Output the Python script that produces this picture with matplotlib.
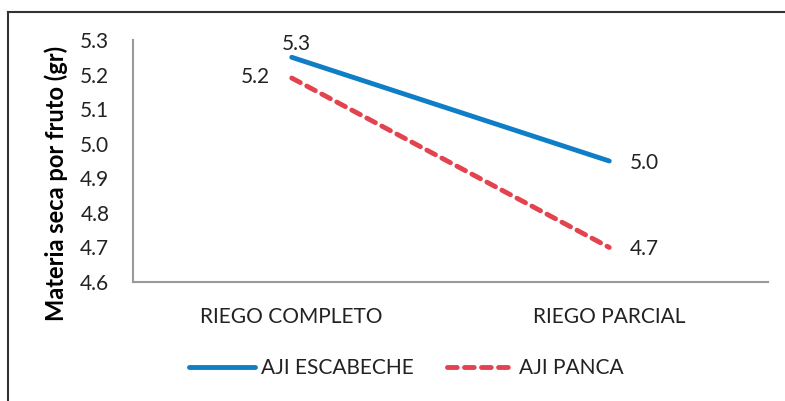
import matplotlib
matplotlib.use("Agg")
import matplotlib.pyplot as plt
from matplotlib.lines import Line2D

categories = ["RIEGO COMPLETO", "RIEGO PARCIAL"]
escabeche = [5.25, 4.95]
panca = [5.19, 4.70]
escabeche_labels = ["5.3", "5.0"]
panca_labels = ["5.2", "4.7"]
yticks = [4.6, 4.7, 4.8, 4.9, 5.0, 5.1, 5.2, 5.3]

plt.rcParams['font.family'] = ['Lato', 'DejaVu Sans']

fig = plt.figure(figsize=(7.85, 4.01), dpi=100)
ax = fig.add_axes([133/785, 1-282/401, (768-133)/785, (282-40)/401])

blue = "#0F7EC6"
red = "#E2434F"
txt = "#222222"
x = list(range(len(categories)))
ax.plot(x, escabeche, color=blue, lw=3.5, solid_capstyle='round', label="AJI ESCABECHE")
ax.plot(x, panca, color=red, lw=3.5, linestyle=(0, (2.0, 1.5)), dash_capstyle='round', label="AJI PANCA")

ax.set_xlim(-0.5, 1.5)
ax.set_ylim(4.6, 5.3)
ax.set_yticks(yticks)
ax.set_yticklabels([f"{v:.1f}" for v in yticks], fontsize=15, color=txt)
ax.set_xticks(x)
ax.set_xticklabels(categories, fontsize=15, color=txt)
ax.tick_params(axis='y', length=0, pad=17)
ax.tick_params(axis='x', length=0, pad=18)
for s in ["top", "right"]:
    ax.spines[s].set_visible(False)
ax.spines["left"].set_color("#999999")
ax.spines["bottom"].set_color("#999999")
ax.spines["left"].set_linewidth(1.5)
ax.spines["bottom"].set_linewidth(1.5)

ax.set_ylabel("Materia seca por fruto (gr)", fontsize=17, fontweight='bold')
ax.yaxis.set_label_coords((68-133)/(768-133), (282-183)/(282-40))

# data labels
ax.annotate(escabeche_labels[0], (x[0], escabeche[0]), xytext=(5, 13), textcoords='offset pixels',
            ha='center', va='center', fontsize=15, color=txt)
ax.annotate(panca_labels[0], (x[0], panca[0]), xytext=(-22, 1), textcoords='offset pixels',
            ha='right', va='center', fontsize=15, color=txt)
ax.annotate(escabeche_labels[1], (x[1], escabeche[1]), xytext=(21, -2), textcoords='offset pixels',
            ha='left', va='center', fontsize=15, color=txt)
ax.annotate(panca_labels[1], (x[1], panca[1]), xytext=(21, -2), textcoords='offset pixels',
            ha='left', va='center', fontsize=15, color=txt)

leg = fig.legend(loc='center', bbox_to_anchor=(406/785, 1-368/401), ncol=2, frameon=False,
                 fontsize=15, handlelength=3.2, columnspacing=1.6, handletextpad=0.25)
for t in leg.get_texts():
    t.set_color(txt)

# outer frame (left and top)
fig.add_artist(Line2D([8/785, 8/785], [0, 1-12/401], transform=fig.transFigure, color="#333333", lw=1.5))
fig.add_artist(Line2D([8/785, 1], [1-12/401, 1-12/401], transform=fig.transFigure, color="#333333", lw=1.5))

fig.savefig("out.png", dpi=100)
